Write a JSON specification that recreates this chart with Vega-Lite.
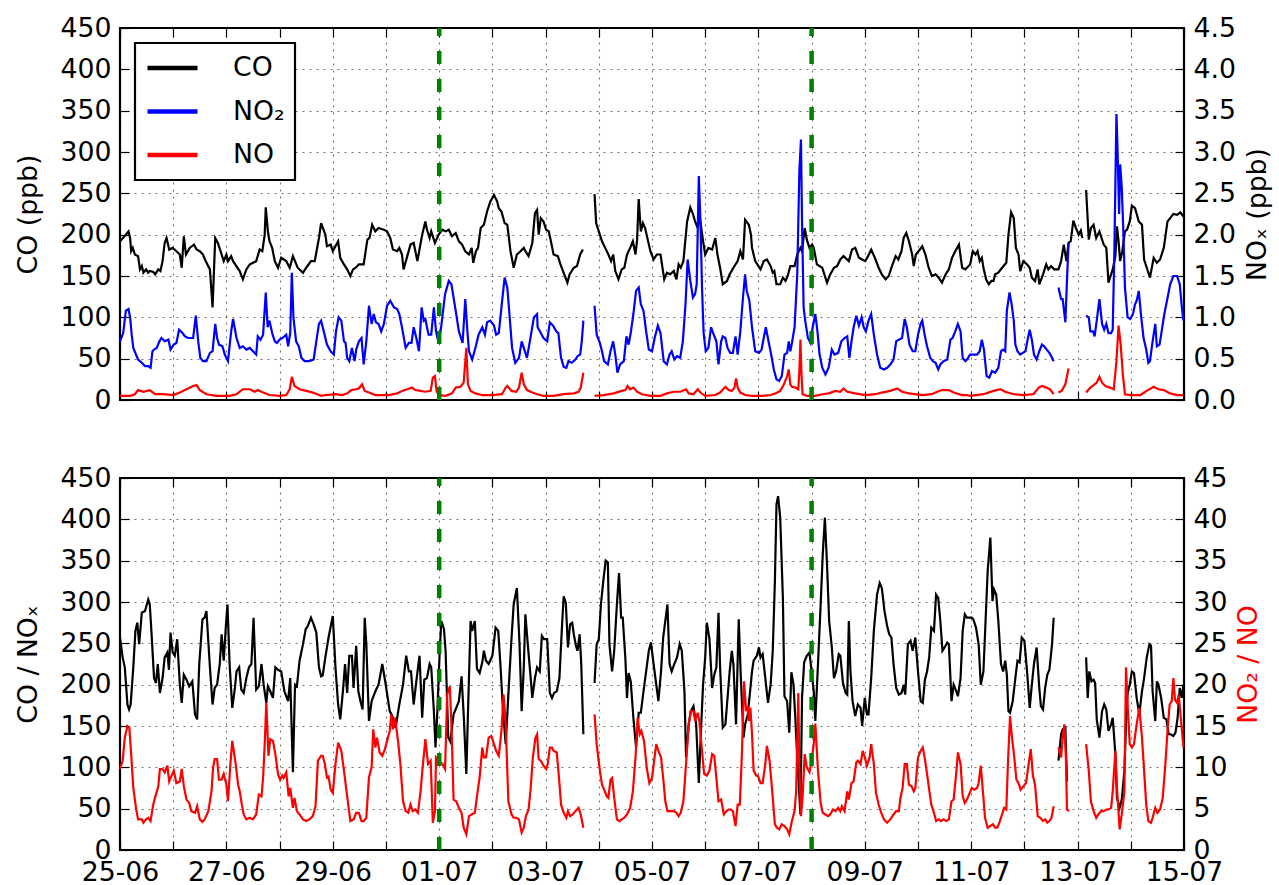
{
"$schema":"https://vega.github.io/schema/vega-lite/v6.json",
"autosize":{"type":"pad"},
"padding":{"left":13,"top":13,"right":5,"bottom":0},
"background":"white",
"config":{
 "font":"DejaVu Sans",
 "view":{"stroke":"black","strokeWidth":2.2},
 "axis":{"labelFontSize":26.7,"titleFontSize":26.7,"titleFontWeight":"normal","labelColor":"black","titleColor":"black","tickColor":"black","tickWidth":1.2,"tickSize":-9,"labelPadding":18,"titlePadding":9,"domain":false,"gridColor":"#000000","gridOpacity":0.55,"gridDash":[2,5],"gridWidth":1.1,"labelFont":"DejaVu Sans","titleFont":"DejaVu Sans","labelOverlap":false,"labelFlush":false},
 "legend":{"strokeWidth":2.2}
},
"datasets":{
"events":[{"d":6},{"d":13}],
"co":[{"d":0,"v":192},{"d":0.11,"v":200},{"d":0.16,"v":204},{"d":0.19,"v":196},{"d":0.21,"v":180},{"d":0.24,"v":184},{"d":0.28,"v":176},{"d":0.34,"v":174},{"d":0.375,"v":158},{"d":0.41,"v":162},{"d":0.44,"v":154},{"d":0.49,"v":158},{"d":0.53,"v":154},{"d":0.56,"v":156},{"d":0.625,"v":155},{"d":0.66,"v":152},{"d":0.72,"v":158},{"d":0.76,"v":156},{"d":0.8,"v":168},{"d":0.84,"v":190},{"d":0.875,"v":196},{"d":0.925,"v":182},{"d":0.99,"v":184},{"d":1.06,"v":180},{"d":1.125,"v":176},{"d":1.16,"v":160},{"d":1.2,"v":198},{"d":1.24,"v":176},{"d":1.31,"v":184},{"d":1.39,"v":188},{"d":1.44,"v":182},{"d":1.5,"v":180},{"d":1.56,"v":176},{"d":1.61,"v":168},{"d":1.69,"v":158},{"d":1.74,"v":112},{"d":1.79,"v":196},{"d":1.84,"v":190},{"d":1.91,"v":176},{"d":1.95,"v":168},{"d":2.0,"v":176},{"d":2.03,"v":168},{"d":2.09,"v":174},{"d":2.125,"v":168},{"d":2.25,"v":156},{"d":2.31,"v":146},{"d":2.375,"v":158},{"d":2.44,"v":164},{"d":2.5,"v":166},{"d":2.56,"v":168},{"d":2.625,"v":182},{"d":2.675,"v":180},{"d":2.72,"v":200},{"d":2.74,"v":233},{"d":2.78,"v":204},{"d":2.81,"v":192},{"d":2.86,"v":184},{"d":2.91,"v":168},{"d":2.97,"v":160},{"d":3.03,"v":172},{"d":3.125,"v":168},{"d":3.19,"v":160},{"d":3.25,"v":174},{"d":3.34,"v":160},{"d":3.44,"v":154},{"d":3.5,"v":160},{"d":3.59,"v":168},{"d":3.66,"v":168},{"d":3.74,"v":196},{"d":3.78,"v":214},
{"d":3.86,"v":200},{"d":3.89,"v":186},{"d":3.96,"v":188},{"d":4.0,"v":180},{"d":4.05,"v":186},{"d":4.1,"v":192},{"d":4.14,"v":172},{"d":4.21,"v":164},{"d":4.27,"v":158},{"d":4.33,"v":150},{"d":4.38,"v":158},{"d":4.43,"v":160},{"d":4.49,"v":164},{"d":4.58,"v":164},{"d":4.65,"v":194},{"d":4.69,"v":196},{"d":4.74,"v":212},{"d":4.8,"v":204},{"d":4.86,"v":208},{"d":4.96,"v":206},{"d":5.02,"v":204},{"d":5.08,"v":196},{"d":5.13,"v":182},{"d":5.21,"v":180},{"d":5.25,"v":184},{"d":5.3,"v":176},{"d":5.33,"v":158},{"d":5.4,"v":174},{"d":5.46,"v":188},{"d":5.52,"v":190},{"d":5.59,"v":168},{"d":5.68,"v":200},{"d":5.74,"v":216},{"d":5.77,"v":206},{"d":5.82,"v":196},{"d":5.85,"v":204},{"d":5.92,"v":190},{"d":5.99,"v":200},{"d":6.06,"v":206},{"d":6.12,"v":204},{"d":6.18,"v":206},{"d":6.24,"v":198},{"d":6.31,"v":202},{"d":6.37,"v":192},{"d":6.43,"v":188},{"d":6.49,"v":180},{"d":6.56,"v":176},{"d":6.61,"v":184},{"d":6.64,"v":166},{"d":6.69,"v":180},{"d":6.73,"v":184},{"d":6.78,"v":208},{"d":6.84,"v":212},{"d":6.9,"v":228},{"d":6.96,"v":240},{"d":7.03,"v":248},{"d":7.09,"v":240},{"d":7.12,"v":232},{"d":7.17,"v":228},{"d":7.23,"v":214},{"d":7.28,"v":212},{"d":7.34,"v":180},{"d":7.4,"v":160},{"d":7.46,"v":176},{"d":7.53,"v":180},{"d":7.59,"v":184},{"d":7.62,"v":180},{"d":7.68,"v":174},{"d":7.75,"v":190},{"d":7.8,"v":226},{"d":7.84,"v":230},
{"d":7.87,"v":200},{"d":7.91,"v":220},{"d":7.96,"v":216},{"d":8.01,"v":206},{"d":8.06,"v":204},{"d":8.1,"v":192},{"d":8.15,"v":176},{"d":8.23,"v":174},{"d":8.28,"v":164},{"d":8.35,"v":152},{"d":8.41,"v":142},{"d":8.45,"v":152},{"d":8.53,"v":160},{"d":8.59,"v":162},{"d":8.65,"v":176},{"d":8.7,"v":182},{"d":8.8,"v":null},{"d":8.92,"v":249},{"d":8.95,"v":214},{"d":9.0,"v":204},{"d":9.06,"v":192},{"d":9.12,"v":184},{"d":9.18,"v":176},{"d":9.23,"v":168},{"d":9.27,"v":176},{"d":9.31,"v":156},{"d":9.37,"v":146},{"d":9.43,"v":158},{"d":9.48,"v":160},{"d":9.53,"v":176},{"d":9.59,"v":184},{"d":9.64,"v":192},{"d":9.69,"v":176},{"d":9.72,"v":194},{"d":9.75,"v":243},{"d":9.79,"v":204},{"d":9.83,"v":214},{"d":9.87,"v":208},{"d":9.97,"v":180},{"d":10.03,"v":170},{"d":10.09,"v":176},{"d":10.16,"v":176},{"d":10.23,"v":146},{"d":10.28,"v":154},{"d":10.34,"v":152},{"d":10.41,"v":156},{"d":10.46,"v":146},{"d":10.5,"v":164},{"d":10.54,"v":160},{"d":10.59,"v":168},{"d":10.66,"v":216},{"d":10.72,"v":233},{"d":10.77,"v":225},{"d":10.81,"v":216},{"d":10.86,"v":208},{"d":10.89,"v":225},{"d":10.96,"v":192},{"d":11.0,"v":176},{"d":11.06,"v":184},{"d":11.13,"v":182},{"d":11.19,"v":196},{"d":11.23,"v":176},{"d":11.28,"v":160},{"d":11.33,"v":140},{"d":11.41,"v":144},{"d":11.46,"v":152},{"d":11.53,"v":160},{"d":11.61,"v":168},{"d":11.66,"v":180},{"d":11.71,"v":170},{"d":11.75,"v":218},{"d":11.82,"v":212},{"d":11.86,"v":200},
{"d":11.88,"v":184},{"d":11.94,"v":168},{"d":12.04,"v":158},{"d":12.1,"v":168},{"d":12.16,"v":170},{"d":12.23,"v":162},{"d":12.27,"v":154},{"d":12.3,"v":156},{"d":12.34,"v":140},{"d":12.41,"v":140},{"d":12.46,"v":148},{"d":12.51,"v":144},{"d":12.55,"v":150},{"d":12.6,"v":162},{"d":12.68,"v":162},{"d":12.73,"v":176},{"d":12.79,"v":184},{"d":12.82,"v":180},{"d":12.87,"v":208},{"d":12.91,"v":194},{"d":12.96,"v":184},{"d":13.01,"v":188},{"d":13.04,"v":184},{"d":13.1,"v":164},{"d":13.2,"v":160},{"d":13.29,"v":142},{"d":13.35,"v":152},{"d":13.42,"v":160},{"d":13.48,"v":162},{"d":13.54,"v":170},{"d":13.6,"v":174},{"d":13.7,"v":168},{"d":13.76,"v":182},{"d":13.82,"v":184},{"d":13.89,"v":172},{"d":13.95,"v":170},{"d":14.01,"v":168},{"d":14.06,"v":174},{"d":14.12,"v":182},{"d":14.19,"v":172},{"d":14.26,"v":160},{"d":14.32,"v":152},{"d":14.39,"v":146},{"d":14.45,"v":150},{"d":14.51,"v":162},{"d":14.58,"v":174},{"d":14.63,"v":170},{"d":14.69,"v":180},{"d":14.73,"v":196},{"d":14.78,"v":202},{"d":14.83,"v":192},{"d":14.89,"v":176},{"d":14.92,"v":162},{"d":14.96,"v":176},{"d":15.01,"v":180},{"d":15.08,"v":186},{"d":15.14,"v":176},{"d":15.2,"v":160},{"d":15.26,"v":150},{"d":15.33,"v":152},{"d":15.39,"v":148},{"d":15.45,"v":142},{"d":15.52,"v":152},{"d":15.58,"v":158},{"d":15.64,"v":172},{"d":15.7,"v":180},{"d":15.77,"v":188},{"d":15.83,"v":160},{"d":15.89,"v":158},{"d":15.92,"v":160},
{"d":15.98,"v":164},{"d":16.03,"v":180},{"d":16.08,"v":176},{"d":16.12,"v":180},{"d":16.16,"v":168},{"d":16.2,"v":172},{"d":16.23,"v":160},{"d":16.28,"v":146},{"d":16.33,"v":140},{"d":16.38,"v":144},{"d":16.42,"v":144},{"d":16.45,"v":152},{"d":16.51,"v":154},{"d":16.58,"v":160},{"d":16.66,"v":166},{"d":16.7,"v":200},{"d":16.75,"v":227},{"d":16.8,"v":220},{"d":16.84,"v":184},{"d":16.89,"v":176},{"d":16.92,"v":156},{"d":16.98,"v":168},{"d":17.05,"v":164},{"d":17.1,"v":160},{"d":17.14,"v":148},{"d":17.2,"v":144},{"d":17.25,"v":158},{"d":17.28,"v":140},{"d":17.35,"v":152},{"d":17.41,"v":164},{"d":17.45,"v":158},{"d":17.5,"v":162},{"d":17.56,"v":158},{"d":17.64,"v":158},{"d":17.69,"v":168},{"d":17.74,"v":188},{"d":17.79,"v":168},{"d":17.83,"v":190},{"d":17.87,"v":192},{"d":17.92,"v":217},{"d":17.97,"v":208},{"d":18.02,"v":200},{"d":18.06,"v":205},{"d":18.09,"v":196},{"d":18.12,"v":null},{"d":18.16,"v":254},{"d":18.21,"v":194},{"d":18.25,"v":208},{"d":18.3,"v":212},{"d":18.35,"v":196},{"d":18.41,"v":204},{"d":18.49,"v":188},{"d":18.54,"v":184},{"d":18.58,"v":142},{"d":18.61,"v":148},{"d":18.66,"v":158},{"d":18.71,"v":174},{"d":18.74,"v":210},{"d":18.77,"v":192},{"d":18.8,"v":168},{"d":18.84,"v":180},{"d":18.89,"v":204},{"d":18.93,"v":206},{"d":18.98,"v":216},{"d":19.02,"v":235},{"d":19.08,"v":232},{"d":19.15,"v":216},{"d":19.21,"v":212},{"d":19.25,"v":170},{"d":19.3,"v":160},{"d":19.36,"v":148},{"d":19.43,"v":172},{"d":19.49,"v":166},{"d":19.55,"v":170},{"d":19.62,"v":184},{"d":19.69,"v":216},{"d":19.74,"v":220},{"d":19.8,"v":225},{"d":19.87,"v":224},{"d":19.93,"v":227},{"d":19.99,"v":222}],
"no2":[{"d":0,"v":0.71},{"d":0.06,"v":0.81},{"d":0.11,"v":1.08},{"d":0.16,"v":1.10},{"d":0.19,"v":1.0},{"d":0.22,"v":0.79},{"d":0.25,"v":0.63},{"d":0.3,"v":0.55},{"d":0.34,"v":0.49},{"d":0.41,"v":0.45},{"d":0.47,"v":0.41},{"d":0.53,"v":0.41},{"d":0.575,"v":0.39},{"d":0.61,"v":0.59},{"d":0.64,"v":0.61},{"d":0.69,"v":0.63},{"d":0.74,"v":0.71},{"d":0.78,"v":0.75},{"d":0.84,"v":0.71},{"d":0.91,"v":0.73},{"d":0.95,"v":0.61},{"d":1.01,"v":0.67},{"d":1.06,"v":0.69},{"d":1.11,"v":0.85},{"d":1.175,"v":0.81},{"d":1.22,"v":0.77},{"d":1.28,"v":0.75},{"d":1.375,"v":0.75},{"d":1.425,"v":1.02},{"d":1.47,"v":0.71},{"d":1.51,"v":0.51},{"d":1.56,"v":0.47},{"d":1.625,"v":0.47},{"d":1.69,"v":0.57},{"d":1.74,"v":0.59},{"d":1.79,"v":0.92},{"d":1.825,"v":0.75},{"d":1.86,"v":0.67},{"d":1.925,"v":0.65},{"d":1.97,"v":0.55},{"d":2.03,"v":0.47},{"d":2.09,"v":0.83},{"d":2.125,"v":0.98},{"d":2.19,"v":0.75},{"d":2.25,"v":0.63},{"d":2.31,"v":0.65},{"d":2.375,"v":0.61},{"d":2.44,"v":0.63},{"d":2.5,"v":0.59},{"d":2.56,"v":0.55},{"d":2.59,"v":0.77},{"d":2.64,"v":0.73},{"d":2.69,"v":0.79},{"d":2.74,"v":1.30},{"d":2.775,"v":0.88},{"d":2.81,"v":0.96},{"d":2.86,"v":0.81},{"d":2.91,"v":0.71},{"d":2.95,"v":0.69},{"d":3.0,"v":0.73},{"d":3.05,"v":0.75},{"d":3.09,"v":0.77},{"d":3.125,"v":0.79},{"d":3.16,"v":0.65},{"d":3.2,"v":0.81},{"d":3.23,"v":1.54},{"d":3.26,"v":1.0},{"d":3.31,"v":0.71},{"d":3.36,"v":0.65},{"d":3.41,"v":0.51},{"d":3.47,"v":0.47},{"d":3.56,"v":0.47},{"d":3.64,"v":0.49},{"d":3.69,"v":0.71},{"d":3.74,"v":0.92},{"d":3.78,"v":0.96},
{"d":3.83,"v":0.83},{"d":3.89,"v":0.67},{"d":3.96,"v":0.59},{"d":4.02,"v":0.55},{"d":4.06,"v":0.83},{"d":4.11,"v":1.0},{"d":4.16,"v":0.96},{"d":4.21,"v":0.71},{"d":4.24,"v":0.69},{"d":4.27,"v":0.51},{"d":4.31,"v":0.47},{"d":4.36,"v":0.63},{"d":4.41,"v":0.47},{"d":4.44,"v":0.61},{"d":4.49,"v":0.71},{"d":4.54,"v":0.75},{"d":4.58,"v":0.43},{"d":4.63,"v":0.71},{"d":4.68,"v":1.14},{"d":4.73,"v":0.92},{"d":4.77,"v":1.04},{"d":4.81,"v":0.94},{"d":4.86,"v":0.92},{"d":4.91,"v":0.83},{"d":4.96,"v":0.92},{"d":5.02,"v":1.14},{"d":5.08,"v":1.2},{"d":5.15,"v":1.12},{"d":5.21,"v":1.1},{"d":5.25,"v":1.04},{"d":5.3,"v":0.88},{"d":5.37,"v":0.63},{"d":5.43,"v":0.69},{"d":5.48,"v":0.69},{"d":5.52,"v":0.88},{"d":5.57,"v":0.75},{"d":5.62,"v":0.59},{"d":5.67,"v":1.12},{"d":5.71,"v":0.96},{"d":5.74,"v":0.98},{"d":5.77,"v":0.88},{"d":5.8,"v":0.79},{"d":5.85,"v":0.79},{"d":5.9,"v":1.12},{"d":5.94,"v":0.83},{"d":5.99,"v":0.69},{"d":6.04,"v":0.9},{"d":6.11,"v":1.28},{"d":6.18,"v":1.44},{"d":6.23,"v":1.40},{"d":6.31,"v":1.08},{"d":6.37,"v":0.83},{"d":6.44,"v":0.69},{"d":6.49,"v":1.22},{"d":6.53,"v":0.83},{"d":6.56,"v":0.59},{"d":6.62,"v":0.49},{"d":6.68,"v":0.63},{"d":6.74,"v":0.79},{"d":6.81,"v":0.88},{"d":6.86,"v":0.79},{"d":6.9,"v":0.94},{"d":6.96,"v":0.96},{"d":7.03,"v":0.9},{"d":7.07,"v":0.79},{"d":7.12,"v":0.81},{"d":7.17,"v":1.12},{"d":7.23,"v":1.48},{"d":7.28,"v":1.36},{"d":7.32,"v":1.04},{"d":7.37,"v":0.63},{"d":7.43,"v":0.45},{"d":7.5,"v":0.51},{"d":7.55,"v":0.71},{"d":7.59,"v":0.63},{"d":7.65,"v":0.51},{"d":7.72,"v":0.77},{"d":7.78,"v":1.0},{"d":7.84,"v":1.04},
{"d":7.85,"v":0.88},{"d":7.91,"v":0.81},{"d":7.96,"v":0.75},{"d":8.03,"v":0.71},{"d":8.08,"v":0.94},{"d":8.14,"v":0.9},{"d":8.2,"v":0.83},{"d":8.24,"v":0.81},{"d":8.29,"v":0.51},{"d":8.34,"v":0.40},{"d":8.39,"v":0.39},{"d":8.43,"v":0.47},{"d":8.49,"v":0.45},{"d":8.56,"v":0.49},{"d":8.6,"v":0.53},{"d":8.65,"v":0.55},{"d":8.68,"v":0.71},{"d":8.71,"v":0.96},{"d":8.8,"v":null},{"d":8.92,"v":1.14},{"d":8.96,"v":0.79},{"d":9.02,"v":0.69},{"d":9.06,"v":0.59},{"d":9.1,"v":0.47},{"d":9.17,"v":0.43},{"d":9.22,"v":0.59},{"d":9.27,"v":0.71},{"d":9.31,"v":0.55},{"d":9.35,"v":0.33},{"d":9.4,"v":0.43},{"d":9.47,"v":0.47},{"d":9.52,"v":0.77},{"d":9.56,"v":0.67},{"d":9.6,"v":0.81},{"d":9.65,"v":1.04},{"d":9.7,"v":1.32},{"d":9.75,"v":1.36},{"d":9.79,"v":1.16},{"d":9.84,"v":1.08},{"d":9.89,"v":0.83},{"d":9.94,"v":0.61},{"d":10.0,"v":0.59},{"d":10.05,"v":0.75},{"d":10.11,"v":0.9},{"d":10.16,"v":0.81},{"d":10.22,"v":0.47},{"d":10.28,"v":0.43},{"d":10.33,"v":0.55},{"d":10.37,"v":0.59},{"d":10.42,"v":0.49},{"d":10.47,"v":0.53},{"d":10.53,"v":0.51},{"d":10.58,"v":0.71},{"d":10.63,"v":1.16},{"d":10.67,"v":1.70},{"d":10.72,"v":1.44},{"d":10.77,"v":1.24},{"d":10.81,"v":1.28},{"d":10.84,"v":1.40},{"d":10.88,"v":2.71},{"d":10.91,"v":2.17},{"d":10.94,"v":1.36},{"d":10.97,"v":0.81},{"d":11.01,"v":0.59},{"d":11.06,"v":0.63},{"d":11.11,"v":0.88},{"d":11.16,"v":0.79},{"d":11.21,"v":0.71},{"d":11.25,"v":0.43},{"d":11.3,"v":0.71},{"d":11.33,"v":0.77},{"d":11.38,"v":0.75},{"d":11.42,"v":0.63},{"d":11.47,"v":0.57},{"d":11.52,"v":0.57},{"d":11.57,"v":0.77},{"d":11.61,"v":0.55},{"d":11.66,"v":0.83},{"d":11.71,"v":1.24},{"d":11.75,"v":1.52},{"d":11.78,"v":1.32},{"d":11.83,"v":1.2},{"d":11.88,"v":0.88},
{"d":11.94,"v":0.59},{"d":12.01,"v":0.57},{"d":12.06,"v":0.61},{"d":12.1,"v":0.75},{"d":12.14,"v":0.88},{"d":12.19,"v":0.71},{"d":12.24,"v":0.55},{"d":12.29,"v":0.37},{"d":12.34,"v":0.25},{"d":12.39,"v":0.23},{"d":12.44,"v":0.29},{"d":12.49,"v":0.55},{"d":12.54,"v":0.57},{"d":12.57,"v":0.71},{"d":12.6,"v":0.59},{"d":12.63,"v":0.69},{"d":12.68,"v":0.88},{"d":12.73,"v":1.52},{"d":12.77,"v":2.77},{"d":12.8,"v":3.15},{"d":12.82,"v":2.17},{"d":12.85,"v":1.12},{"d":12.88,"v":0.96},{"d":12.93,"v":0.75},{"d":12.98,"v":0.69},{"d":13.02,"v":0.88},{"d":13.07,"v":1.04},{"d":13.11,"v":0.83},{"d":13.15,"v":0.55},{"d":13.2,"v":0.39},{"d":13.26,"v":0.31},{"d":13.32,"v":0.39},{"d":13.38,"v":0.61},{"d":13.43,"v":0.55},{"d":13.5,"v":0.57},{"d":13.56,"v":0.71},{"d":13.62,"v":0.75},{"d":13.67,"v":0.77},{"d":13.71,"v":0.51},{"d":13.75,"v":0.71},{"d":13.79,"v":0.88},{"d":13.84,"v":1.02},{"d":13.89,"v":0.9},{"d":13.94,"v":1.0},{"d":13.98,"v":0.88},{"d":14.02,"v":0.83},{"d":14.07,"v":0.96},{"d":14.12,"v":1.04},{"d":14.17,"v":0.79},{"d":14.23,"v":0.55},{"d":14.29,"v":0.39},{"d":14.36,"v":0.37},{"d":14.42,"v":0.39},{"d":14.48,"v":0.43},{"d":14.54,"v":0.49},{"d":14.59,"v":0.71},{"d":14.64,"v":0.73},{"d":14.7,"v":0.75},{"d":14.75,"v":0.98},{"d":14.79,"v":0.88},{"d":14.84,"v":0.67},{"d":14.9,"v":0.59},{"d":14.95,"v":0.59},{"d":15.0,"v":0.79},{"d":15.05,"v":0.92},{"d":15.08,"v":0.96},{"d":15.13,"v":0.77},{"d":15.17,"v":0.65},{"d":15.23,"v":0.51},{"d":15.28,"v":0.47},{"d":15.33,"v":0.45},{"d":15.38,"v":0.37},{"d":15.42,"v":0.43},{"d":15.48,"v":0.47},{"d":15.55,"v":0.49},{"d":15.61,"v":0.73},{"d":15.65,"v":0.75},{"d":15.7,"v":0.83},{"d":15.75,"v":0.92},{"d":15.8,"v":0.83},{"d":15.84,"v":0.51},{"d":15.89,"v":0.47},{"d":15.92,"v":0.49},
{"d":15.98,"v":0.55},{"d":16.04,"v":0.55},{"d":16.11,"v":0.55},{"d":16.16,"v":0.59},{"d":16.2,"v":0.73},{"d":16.24,"v":0.61},{"d":16.29,"v":0.29},{"d":16.34,"v":0.27},{"d":16.39,"v":0.35},{"d":16.45,"v":0.33},{"d":16.51,"v":0.39},{"d":16.56,"v":0.59},{"d":16.6,"v":0.61},{"d":16.64,"v":0.59},{"d":16.67,"v":1.08},{"d":16.72,"v":1.30},{"d":16.76,"v":1.16},{"d":16.8,"v":0.96},{"d":16.83,"v":0.67},{"d":16.87,"v":0.59},{"d":16.92,"v":0.55},{"d":16.97,"v":0.57},{"d":17.02,"v":0.59},{"d":17.06,"v":0.73},{"d":17.1,"v":0.85},{"d":17.14,"v":0.73},{"d":17.18,"v":0.55},{"d":17.23,"v":0.49},{"d":17.28,"v":0.59},{"d":17.33,"v":0.67},{"d":17.37,"v":0.65},{"d":17.42,"v":0.61},{"d":17.47,"v":0.57},{"d":17.52,"v":0.51},{"d":17.55,"v":0.47},{"d":17.6,"v":null},{"d":17.64,"v":1.36},{"d":17.69,"v":1.22},{"d":17.72,"v":1.22},{"d":17.77,"v":0.94},{"d":17.8,"v":1.44},{"d":17.83,"v":1.9},{"d":18.0,"v":null},{"d":18.16,"v":1.02},{"d":18.21,"v":1.0},{"d":18.24,"v":0.83},{"d":18.29,"v":0.83},{"d":18.32,"v":0.77},{"d":18.36,"v":0.96},{"d":18.41,"v":1.22},{"d":18.46,"v":0.92},{"d":18.5,"v":0.85},{"d":18.54,"v":0.92},{"d":18.58,"v":0.81},{"d":18.63,"v":0.81},{"d":18.66,"v":0.85},{"d":18.69,"v":1.76},{"d":18.73,"v":3.46},{"d":18.75,"v":3.05},{"d":18.78,"v":2.25},{"d":18.8,"v":2.85},{"d":18.83,"v":2.57},{"d":18.86,"v":2.04},{"d":18.89,"v":1.36},{"d":18.94,"v":1.0},{"d":18.99,"v":0.98},{"d":19.04,"v":1.04},{"d":19.08,"v":1.16},{"d":19.11,"v":1.2},{"d":19.15,"v":1.32},{"d":19.19,"v":1.04},{"d":19.24,"v":0.75},{"d":19.29,"v":0.61},{"d":19.33,"v":0.45},{"d":19.36,"v":0.47},{"d":19.41,"v":0.71},{"d":19.46,"v":0.92},{"d":19.49,"v":0.65},{"d":19.54,"v":0.67},{"d":19.58,"v":0.83},{"d":19.63,"v":1.04},{"d":19.68,"v":1.2},{"d":19.74,"v":1.4},{"d":19.8,"v":1.5},{"d":19.87,"v":1.5},{"d":19.92,"v":1.4},{"d":19.96,"v":1.12},{"d":19.99,"v":0.96}],
"no":[{"d":0,"v":0.05},{"d":0.19,"v":0.05},{"d":0.28,"v":0.07},{"d":0.34,"v":0.12},{"d":0.44,"v":0.10},{"d":0.56,"v":0.12},{"d":0.66,"v":0.07},{"d":0.81,"v":0.07},{"d":1.0,"v":0.06},{"d":1.125,"v":0.09},{"d":1.25,"v":0.13},{"d":1.375,"v":0.17},{"d":1.44,"v":0.18},{"d":1.5,"v":0.12},{"d":1.625,"v":0.07},{"d":1.81,"v":0.05},{"d":2.06,"v":0.05},{"d":2.19,"v":0.07},{"d":2.31,"v":0.13},{"d":2.44,"v":0.13},{"d":2.53,"v":0.10},{"d":2.59,"v":0.12},{"d":2.69,"v":0.09},{"d":2.81,"v":0.06},{"d":3.0,"v":0.05},{"d":3.125,"v":0.06},{"d":3.19,"v":0.13},{"d":3.23,"v":0.28},{"d":3.28,"v":0.17},{"d":3.375,"v":0.13},{"d":3.5,"v":0.11},{"d":3.625,"v":0.09},{"d":3.78,"v":0.05},
{"d":3.86,"v":0.06},{"d":4.05,"v":0.07},{"d":4.18,"v":0.06},{"d":4.27,"v":0.08},{"d":4.35,"v":0.12},{"d":4.43,"v":0.13},{"d":4.49,"v":0.14},{"d":4.55,"v":0.19},{"d":4.6,"v":0.11},{"d":4.68,"v":0.09},{"d":4.8,"v":0.06},{"d":5.05,"v":0.06},{"d":5.21,"v":0.08},{"d":5.3,"v":0.11},{"d":5.4,"v":0.13},{"d":5.49,"v":0.15},{"d":5.55,"v":0.12},{"d":5.65,"v":0.11},{"d":5.74,"v":0.10},{"d":5.84,"v":0.11},{"d":5.88,"v":0.27},{"d":5.92,"v":0.29},{"d":5.95,"v":0.11},{"d":5.99,"v":0.06},{"d":6.12,"v":0.05},{"d":6.24,"v":0.08},{"d":6.31,"v":0.15},{"d":6.4,"v":0.16},{"d":6.46,"v":0.21},{"d":6.51,"v":0.63},{"d":6.54,"v":0.19},{"d":6.59,"v":0.11},{"d":6.68,"v":0.08},{"d":6.81,"v":0.06},{"d":7.0,"v":0.06},{"d":7.18,"v":0.07},{"d":7.25,"v":0.15},{"d":7.28,"v":0.17},{"d":7.36,"v":0.11},{"d":7.45,"v":0.10},{"d":7.5,"v":0.15},{"d":7.55,"v":0.33},{"d":7.59,"v":0.19},{"d":7.65,"v":0.12},{"d":7.75,"v":0.09},{"d":7.84,"v":0.07},
{"d":7.96,"v":0.05},{"d":8.15,"v":0.05},{"d":8.34,"v":0.07},{"d":8.53,"v":0.08},{"d":8.62,"v":0.10},{"d":8.66,"v":0.15},{"d":8.71,"v":0.33},{"d":8.8,"v":null},{"d":8.92,"v":0.05},{"d":9.09,"v":0.06},{"d":9.28,"v":0.08},{"d":9.43,"v":0.11},{"d":9.5,"v":0.12},{"d":9.54,"v":0.17},{"d":9.59,"v":0.13},{"d":9.65,"v":0.15},{"d":9.72,"v":0.10},{"d":9.81,"v":0.07},{"d":9.97,"v":0.05},{"d":10.16,"v":0.05},{"d":10.28,"v":0.08},{"d":10.41,"v":0.10},{"d":10.53,"v":0.10},{"d":10.64,"v":0.13},{"d":10.69,"v":0.08},{"d":10.78,"v":0.07},{"d":10.86,"v":0.13},{"d":10.91,"v":0.09},{"d":11.0,"v":0.05},{"d":11.19,"v":0.06},{"d":11.28,"v":0.09},{"d":11.38,"v":0.16},{"d":11.44,"v":0.12},{"d":11.5,"v":0.11},{"d":11.55,"v":0.15},{"d":11.58,"v":0.26},{"d":11.61,"v":0.15},{"d":11.66,"v":0.09},{"d":11.75,"v":0.06},{"d":11.88,"v":0.05},
{"d":12.07,"v":0.05},{"d":12.23,"v":0.06},{"d":12.32,"v":0.08},{"d":12.41,"v":0.11},{"d":12.48,"v":0.19},{"d":12.54,"v":0.29},{"d":12.57,"v":0.37},{"d":12.6,"v":0.19},{"d":12.63,"v":0.16},{"d":12.7,"v":0.15},{"d":12.75,"v":0.13},{"d":12.77,"v":0.35},{"d":12.79,"v":0.73},{"d":12.81,"v":0.31},{"d":12.83,"v":0.07},{"d":12.91,"v":0.05},{"d":13.07,"v":0.05},{"d":13.2,"v":0.07},{"d":13.32,"v":0.08},{"d":13.45,"v":0.11},{"d":13.54,"v":0.10},{"d":13.6,"v":0.14},{"d":13.67,"v":0.10},{"d":13.82,"v":0.08},{"d":14.01,"v":0.06},{"d":14.2,"v":0.07},{"d":14.32,"v":0.09},{"d":14.48,"v":0.11},{"d":14.61,"v":0.14},{"d":14.7,"v":0.10},{"d":14.83,"v":0.08},{"d":15.08,"v":0.06},{"d":15.26,"v":0.07},{"d":15.36,"v":0.10},{"d":15.45,"v":0.12},{"d":15.58,"v":0.12},{"d":15.67,"v":0.09},{"d":15.83,"v":0.06},{"d":15.92,"v":0.06},
{"d":15.98,"v":0.05},{"d":16.23,"v":0.07},{"d":16.42,"v":0.11},{"d":16.55,"v":0.13},{"d":16.64,"v":0.10},{"d":16.8,"v":0.07},{"d":16.98,"v":0.06},{"d":17.17,"v":0.07},{"d":17.27,"v":0.15},{"d":17.33,"v":0.17},{"d":17.41,"v":0.15},{"d":17.48,"v":0.13},{"d":17.55,"v":0.07},{"d":17.6,"v":null},{"d":17.64,"v":0.09},{"d":17.7,"v":0.11},{"d":17.77,"v":0.19},{"d":17.83,"v":0.38},{"d":18.0,"v":null},{"d":18.16,"v":0.09},{"d":18.24,"v":0.15},{"d":18.3,"v":0.18},{"d":18.36,"v":0.21},{"d":18.41,"v":0.28},{"d":18.46,"v":0.21},{"d":18.52,"v":0.17},{"d":18.61,"v":0.15},{"d":18.68,"v":0.13},{"d":18.73,"v":0.47},{"d":18.77,"v":0.9},{"d":18.81,"v":0.67},{"d":18.85,"v":0.31},{"d":18.89,"v":0.07},{"d":18.99,"v":0.06},{"d":19.18,"v":0.06},{"d":19.3,"v":0.11},{"d":19.43,"v":0.16},{"d":19.52,"v":0.13},{"d":19.62,"v":0.12},{"d":19.74,"v":0.08},{"d":19.87,"v":0.06},{"d":19.99,"v":0.06}],
"ratio":[{"d":0,"v":257},{"d":0.05,"v":233},{"d":0.09,"v":221},{"d":0.14,"v":176},{"d":0.17,"v":170},{"d":0.2,"v":176},{"d":0.25,"v":221},{"d":0.29,"v":265},{"d":0.325,"v":275},{"d":0.36,"v":249},{"d":0.41,"v":287},{"d":0.47,"v":289},{"d":0.53,"v":303},{"d":0.56,"v":297},{"d":0.59,"v":265},{"d":0.64,"v":208},{"d":0.675,"v":202},{"d":0.71,"v":225},{"d":0.75,"v":190},{"d":0.8,"v":208},{"d":0.84,"v":233},{"d":0.89,"v":239},{"d":0.92,"v":218},{"d":0.95,"v":263},{"d":0.99,"v":239},{"d":1.03,"v":235},{"d":1.075,"v":255},{"d":1.125,"v":200},{"d":1.16,"v":178},{"d":1.2,"v":212},{"d":1.25,"v":206},{"d":1.3,"v":198},{"d":1.36,"v":204},{"d":1.41,"v":164},{"d":1.45,"v":158},{"d":1.49,"v":225},{"d":1.55,"v":279},{"d":1.59,"v":281},{"d":1.625,"v":289},{"d":1.69,"v":221},{"d":1.74,"v":176},{"d":1.78,"v":196},{"d":1.825,"v":200},{"d":1.875,"v":225},{"d":1.91,"v":261},{"d":1.95,"v":229},{"d":1.99,"v":271},{"d":2.02,"v":297},{"d":2.06,"v":225},{"d":2.11,"v":172},{"d":2.16,"v":196},{"d":2.19,"v":216},{"d":2.24,"v":221},{"d":2.28,"v":194},{"d":2.325,"v":190},{"d":2.375,"v":208},{"d":2.425,"v":221},{"d":2.47,"v":225},{"d":2.51,"v":281},{"d":2.56,"v":194},{"d":2.61,"v":198},{"d":2.66,"v":225},{"d":2.7,"v":200},{"d":2.75,"v":178},{"d":2.78,"v":198},{"d":2.825,"v":192},{"d":2.875,"v":184},{"d":2.92,"v":221},{"d":2.97,"v":218},{"d":3.03,"v":216},{"d":3.09,"v":192},{"d":3.16,"v":180},{"d":3.2,"v":208},{"d":3.25,"v":94},{"d":3.29,"v":200},{"d":3.325,"v":198},{"d":3.375,"v":229},{"d":3.44,"v":249},{"d":3.49,"v":267},{"d":3.53,"v":271},{"d":3.59,"v":281},{"d":3.64,"v":273},{"d":3.69,"v":263},{"d":3.74,"v":221},{"d":3.78,"v":210},
{"d":3.81,"v":211},{"d":3.86,"v":233},{"d":3.92,"v":257},{"d":4.0,"v":283},{"d":4.05,"v":221},{"d":4.1,"v":176},{"d":4.14,"v":158},{"d":4.19,"v":192},{"d":4.23,"v":225},{"d":4.27,"v":190},{"d":4.31,"v":235},{"d":4.36,"v":235},{"d":4.39,"v":196},{"d":4.44,"v":247},{"d":4.48,"v":192},{"d":4.52,"v":180},{"d":4.56,"v":170},{"d":4.6,"v":281},{"d":4.63,"v":249},{"d":4.68,"v":156},{"d":4.73,"v":180},{"d":4.8,"v":192},{"d":4.86,"v":200},{"d":4.93,"v":225},{"d":4.99,"v":202},{"d":5.07,"v":168},{"d":5.12,"v":162},{"d":5.18,"v":148},{"d":5.25,"v":176},{"d":5.32,"v":200},{"d":5.38,"v":235},{"d":5.43,"v":216},{"d":5.47,"v":216},{"d":5.52,"v":176},{"d":5.57,"v":204},{"d":5.63,"v":235},{"d":5.68,"v":160},{"d":5.72,"v":206},{"d":5.77,"v":208},{"d":5.82,"v":225},{"d":5.85,"v":221},{"d":5.9,"v":168},{"d":5.93,"v":124},{"d":5.96,"v":160},{"d":6.01,"v":241},{"d":6.04,"v":277},{"d":6.09,"v":267},{"d":6.12,"v":241},{"d":6.17,"v":136},{"d":6.21,"v":131},{"d":6.27,"v":164},{"d":6.32,"v":172},{"d":6.37,"v":180},{"d":6.42,"v":210},{"d":6.46,"v":164},{"d":6.51,"v":92},{"d":6.54,"v":164},{"d":6.59,"v":277},{"d":6.62,"v":265},{"d":6.67,"v":277},{"d":6.71,"v":219},{"d":6.76,"v":214},{"d":6.81,"v":227},{"d":6.84,"v":241},{"d":6.88,"v":229},{"d":6.93,"v":225},{"d":7.0,"v":235},{"d":7.06,"v":269},{"d":7.11,"v":265},{"d":7.15,"v":225},{"d":7.2,"v":168},{"d":7.25,"v":128},{"d":7.31,"v":200},{"d":7.36,"v":257},{"d":7.4,"v":297},{"d":7.46,"v":317},{"d":7.51,"v":249},{"d":7.55,"v":168},{"d":7.59,"v":221},{"d":7.62,"v":285},{"d":7.67,"v":245},{"d":7.72,"v":208},{"d":7.75,"v":184},{"d":7.8,"v":208},{"d":7.84,"v":221},
{"d":7.89,"v":216},{"d":7.93,"v":259},{"d":7.97,"v":255},{"d":8.03,"v":255},{"d":8.08,"v":190},{"d":8.12,"v":184},{"d":8.16,"v":190},{"d":8.21,"v":192},{"d":8.26,"v":208},{"d":8.31,"v":273},{"d":8.34,"v":307},{"d":8.38,"v":299},{"d":8.42,"v":245},{"d":8.46,"v":273},{"d":8.5,"v":275},{"d":8.53,"v":261},{"d":8.57,"v":247},{"d":8.6,"v":241},{"d":8.64,"v":261},{"d":8.67,"v":225},{"d":8.71,"v":140},{"d":8.8,"v":null},{"d":8.92,"v":202},{"d":8.96,"v":249},{"d":9.0,"v":255},{"d":9.04,"v":297},{"d":9.09,"v":329},{"d":9.13,"v":350},{"d":9.17,"v":348},{"d":9.2,"v":249},{"d":9.25,"v":216},{"d":9.29,"v":241},{"d":9.34,"v":297},{"d":9.38,"v":335},{"d":9.42,"v":281},{"d":9.45,"v":281},{"d":9.5,"v":231},{"d":9.53,"v":184},{"d":9.56,"v":214},{"d":9.6,"v":204},{"d":9.65,"v":160},{"d":9.7,"v":124},{"d":9.75,"v":166},{"d":9.79,"v":166},{"d":9.84,"v":192},{"d":9.89,"v":216},{"d":9.94,"v":241},{"d":9.98,"v":251},{"d":10.03,"v":225},{"d":10.08,"v":200},{"d":10.12,"v":180},{"d":10.17,"v":216},{"d":10.21,"v":257},{"d":10.25,"v":277},{"d":10.29,"v":297},{"d":10.33,"v":225},{"d":10.37,"v":216},{"d":10.42,"v":225},{"d":10.47,"v":233},{"d":10.52,"v":249},{"d":10.56,"v":241},{"d":10.61,"v":192},{"d":10.64,"v":112},{"d":10.69,"v":152},{"d":10.73,"v":168},{"d":10.78,"v":174},{"d":10.83,"v":152},{"d":10.88,"v":81},{"d":10.92,"v":144},{"d":10.96,"v":200},{"d":11.0,"v":233},{"d":11.03,"v":275},{"d":11.08,"v":255},{"d":11.13,"v":196},{"d":11.17,"v":212},{"d":11.21,"v":221},{"d":11.25,"v":287},{"d":11.28,"v":221},{"d":11.33,"v":148},{"d":11.38,"v":152},{"d":11.41,"v":176},{"d":11.46,"v":216},{"d":11.5,"v":241},{"d":11.53,"v":225},{"d":11.58,"v":152},{"d":11.63,"v":279},{"d":11.67,"v":208},{"d":11.72,"v":136},{"d":11.75,"v":152},{"d":11.8,"v":164},{"d":11.85,"v":196},{"d":11.88,"v":216},
{"d":11.91,"v":229},{"d":11.97,"v":235},{"d":12.01,"v":245},{"d":12.04,"v":233},{"d":12.08,"v":237},{"d":12.13,"v":208},{"d":12.18,"v":178},{"d":12.23,"v":200},{"d":12.27,"v":241},{"d":12.31,"v":325},{"d":12.34,"v":418},{"d":12.37,"v":428},{"d":12.41,"v":402},{"d":12.46,"v":305},{"d":12.49,"v":186},{"d":12.54,"v":180},{"d":12.58,"v":142},{"d":12.62,"v":215},{"d":12.66,"v":200},{"d":12.7,"v":152},{"d":12.73,"v":112},{"d":12.79,"v":43},{"d":12.82,"v":184},{"d":12.86,"v":227},{"d":12.91,"v":235},{"d":12.96,"v":239},{"d":13.0,"v":216},{"d":13.04,"v":192},{"d":13.07,"v":156},{"d":13.12,"v":225},{"d":13.17,"v":297},{"d":13.21,"v":358},{"d":13.25,"v":402},{"d":13.29,"v":345},{"d":13.33,"v":277},{"d":13.38,"v":245},{"d":13.42,"v":208},{"d":13.46,"v":216},{"d":13.51,"v":237},{"d":13.54,"v":235},{"d":13.59,"v":202},{"d":13.64,"v":190},{"d":13.67,"v":188},{"d":13.7,"v":277},{"d":13.73,"v":216},{"d":13.77,"v":180},{"d":13.82,"v":162},{"d":13.87,"v":176},{"d":13.92,"v":172},{"d":13.95,"v":150},{"d":14.0,"v":184},{"d":14.04,"v":164},{"d":14.07,"v":164},{"d":14.12,"v":208},{"d":14.17,"v":265},{"d":14.23,"v":309},{"d":14.28,"v":323},{"d":14.32,"v":317},{"d":14.37,"v":289},{"d":14.42,"v":271},{"d":14.46,"v":261},{"d":14.5,"v":257},{"d":14.54,"v":225},{"d":14.59,"v":196},{"d":14.64,"v":188},{"d":14.69,"v":190},{"d":14.73,"v":200},{"d":14.76,"v":188},{"d":14.81,"v":249},{"d":14.86,"v":253},{"d":14.9,"v":241},{"d":14.95,"v":257},{"d":15.0,"v":216},{"d":15.05,"v":180},{"d":15.09,"v":178},{"d":15.13,"v":206},{"d":15.17,"v":216},{"d":15.21,"v":233},{"d":15.25,"v":269},{"d":15.3,"v":265},{"d":15.34,"v":309},{"d":15.38,"v":305},{"d":15.42,"v":277},{"d":15.46,"v":241},{"d":15.5,"v":245},{"d":15.55,"v":251},{"d":15.58,"v":249},{"d":15.63,"v":180},{"d":15.67,"v":200},{"d":15.72,"v":192},{"d":15.75,"v":186},{"d":15.8,"v":208},{"d":15.84,"v":265},{"d":15.88,"v":285},{"d":15.92,"v":281},
{"d":16.01,"v":281},{"d":16.04,"v":279},{"d":16.09,"v":269},{"d":16.14,"v":249},{"d":16.18,"v":200},{"d":16.23,"v":216},{"d":16.27,"v":277},{"d":16.31,"v":338},{"d":16.36,"v":378},{"d":16.4,"v":301},{"d":16.43,"v":315},{"d":16.47,"v":309},{"d":16.51,"v":277},{"d":16.56,"v":225},{"d":16.6,"v":216},{"d":16.64,"v":229},{"d":16.67,"v":212},{"d":16.7,"v":168},{"d":16.73,"v":166},{"d":16.78,"v":180},{"d":16.83,"v":208},{"d":16.87,"v":229},{"d":16.91,"v":227},{"d":16.95,"v":257},{"d":17.0,"v":253},{"d":17.05,"v":216},{"d":17.1,"v":172},{"d":17.14,"v":200},{"d":17.18,"v":225},{"d":17.23,"v":245},{"d":17.28,"v":196},{"d":17.31,"v":174},{"d":17.35,"v":170},{"d":17.39,"v":196},{"d":17.43,"v":212},{"d":17.47,"v":218},{"d":17.52,"v":249},{"d":17.55,"v":281},{"d":17.6,"v":null},{"d":17.64,"v":108},{"d":17.69,"v":140},{"d":17.72,"v":146},{"d":17.77,"v":148},{"d":17.8,"v":83},{"d":18.0,"v":null},{"d":18.16,"v":233},{"d":18.19,"v":184},{"d":18.22,"v":216},{"d":18.26,"v":204},{"d":18.3,"v":206},{"d":18.33,"v":202},{"d":18.36,"v":158},{"d":18.41,"v":136},{"d":18.46,"v":168},{"d":18.5,"v":176},{"d":18.54,"v":170},{"d":18.58,"v":144},{"d":18.63,"v":152},{"d":18.66,"v":160},{"d":18.71,"v":116},{"d":18.74,"v":63},{"d":18.79,"v":51},{"d":18.83,"v":61},{"d":18.88,"v":96},{"d":18.91,"v":152},{"d":18.94,"v":190},{"d":18.98,"v":200},{"d":19.02,"v":216},{"d":19.06,"v":214},{"d":19.11,"v":184},{"d":19.16,"v":164},{"d":19.21,"v":192},{"d":19.25,"v":208},{"d":19.3,"v":233},{"d":19.35,"v":249},{"d":19.38,"v":247},{"d":19.41,"v":192},{"d":19.46,"v":156},{"d":19.49,"v":204},{"d":19.52,"v":200},{"d":19.57,"v":184},{"d":19.62,"v":160},{"d":19.67,"v":158},{"d":19.71,"v":140},{"d":19.75,"v":140},{"d":19.8,"v":138},{"d":19.84,"v":142},{"d":19.88,"v":160},{"d":19.92,"v":196},{"d":19.96,"v":184},{"d":19.99,"v":200}],
"r2":[{"d":0,"v":9.8},{"d":0.05,"v":10.8},{"d":0.09,"v":13.6},{"d":0.14,"v":15.0},{"d":0.175,"v":14.8},{"d":0.21,"v":11.6},{"d":0.25,"v":7.5},{"d":0.3,"v":5.1},{"d":0.34,"v":3.7},{"d":0.41,"v":3.7},{"d":0.44,"v":3.3},{"d":0.49,"v":3.7},{"d":0.53,"v":3.9},{"d":0.575,"v":3.5},{"d":0.625,"v":5.5},{"d":0.675,"v":6.7},{"d":0.72,"v":7.7},{"d":0.75,"v":9.8},{"d":0.8,"v":9.8},{"d":0.84,"v":9.4},{"d":0.89,"v":10.2},{"d":0.925,"v":8.3},{"d":0.97,"v":9.0},{"d":1.01,"v":9.6},{"d":1.06,"v":8.1},{"d":1.125,"v":8.3},{"d":1.16,"v":9.8},{"d":1.2,"v":7.7},{"d":1.25,"v":6.1},{"d":1.3,"v":5.7},{"d":1.34,"v":4.7},{"d":1.41,"v":4.5},{"d":1.45,"v":5.3},{"d":1.5,"v":3.7},{"d":1.55,"v":3.4},{"d":1.59,"v":3.7},{"d":1.66,"v":4.7},{"d":1.72,"v":7.1},{"d":1.75,"v":10.0},{"d":1.78,"v":11.0},{"d":1.825,"v":11.0},{"d":1.86,"v":8.5},{"d":1.91,"v":8.5},{"d":1.95,"v":9.2},{"d":2.0,"v":7.9},{"d":2.03,"v":5.9},{"d":2.075,"v":10.4},{"d":2.11,"v":13.2},{"d":2.175,"v":10.4},{"d":2.22,"v":7.9},{"d":2.25,"v":7.1},{"d":2.29,"v":5.5},{"d":2.325,"v":4.3},{"d":2.375,"v":3.7},{"d":2.44,"v":3.9},{"d":2.5,"v":3.7},{"d":2.56,"v":4.3},{"d":2.61,"v":6.7},{"d":2.66,"v":6.5},{"d":2.69,"v":8.8},{"d":2.72,"v":12.8},{"d":2.75,"v":17.8},{"d":2.79,"v":11.4},{"d":2.825,"v":13.4},{"d":2.875,"v":13.2},{"d":2.92,"v":11.6},{"d":2.97,"v":9.2},{"d":3.01,"v":8.5},{"d":3.05,"v":9.0},{"d":3.075,"v":8.7},{"d":3.125,"v":9.4},{"d":3.17,"v":6.5},{"d":3.2,"v":7.5},{"d":3.25,"v":5.1},{"d":3.28,"v":6.3},{"d":3.325,"v":4.7},{"d":3.375,"v":4.3},{"d":3.44,"v":3.7},{"d":3.5,"v":3.5},{"d":3.56,"v":3.7},{"d":3.625,"v":4.1},{"d":3.675,"v":5.3},{"d":3.72,"v":10.8},{"d":3.78,"v":11.4},
{"d":3.81,"v":11.4},{"d":3.85,"v":10.4},{"d":3.89,"v":8.8},{"d":3.92,"v":8.9},{"d":3.96,"v":7.3},{"d":4.0,"v":6.9},{"d":4.05,"v":10.4},{"d":4.1,"v":13.0},{"d":4.16,"v":12.0},{"d":4.21,"v":9.6},{"d":4.27,"v":6.5},{"d":4.33,"v":3.5},{"d":4.39,"v":3.7},{"d":4.44,"v":4.5},{"d":4.49,"v":4.5},{"d":4.54,"v":3.5},{"d":4.58,"v":3.5},{"d":4.63,"v":3.9},{"d":4.68,"v":8.8},{"d":4.73,"v":10.0},{"d":4.76,"v":14.6},{"d":4.8,"v":12.4},{"d":4.83,"v":13.6},{"d":4.88,"v":11.8},{"d":4.93,"v":11.4},{"d":4.98,"v":12.2},{"d":5.02,"v":13.2},{"d":5.07,"v":14.4},{"d":5.1,"v":16.4},{"d":5.13,"v":14.6},{"d":5.17,"v":16.0},{"d":5.19,"v":15.0},{"d":5.23,"v":13.0},{"d":5.27,"v":10.4},{"d":5.32,"v":5.9},{"d":5.37,"v":4.7},{"d":5.42,"v":4.5},{"d":5.46,"v":5.5},{"d":5.5,"v":4.7},{"d":5.55,"v":4.9},{"d":5.6,"v":4.5},{"d":5.65,"v":7.1},{"d":5.68,"v":9.4},{"d":5.74,"v":13.4},{"d":5.79,"v":10.4},{"d":5.84,"v":10.8},{"d":5.88,"v":3.3},{"d":5.92,"v":4.7},{"d":5.94,"v":11.2},{"d":5.99,"v":10.8},{"d":6.06,"v":10.4},{"d":6.11,"v":9.8},{"d":6.15,"v":18.8},{"d":6.2,"v":19.8},{"d":6.23,"v":15.2},{"d":6.27,"v":6.1},{"d":6.32,"v":5.9},{"d":6.37,"v":5.1},{"d":6.42,"v":4.5},{"d":6.46,"v":2.7},{"d":6.51,"v":1.9},{"d":6.56,"v":4.1},{"d":6.61,"v":4.3},{"d":6.67,"v":4.5},{"d":6.71,"v":6.5},{"d":6.76,"v":8.8},{"d":6.81,"v":12.4},{"d":6.84,"v":11.2},{"d":6.88,"v":11.2},{"d":6.93,"v":13.6},{"d":6.98,"v":13.8},{"d":7.03,"v":12.8},{"d":7.07,"v":12.0},{"d":7.12,"v":11.4},{"d":7.17,"v":14.4},{"d":7.21,"v":18.8},{"d":7.25,"v":15.2},{"d":7.3,"v":5.9},{"d":7.36,"v":4.3},{"d":7.4,"v":3.9},{"d":7.45,"v":3.9},{"d":7.5,"v":3.7},{"d":7.55,"v":2.1},{"d":7.59,"v":2.7},{"d":7.63,"v":4.1},{"d":7.68,"v":4.9},{"d":7.72,"v":7.5},{"d":7.76,"v":11.2},{"d":7.81,"v":13.6},{"d":7.84,"v":14.0},
{"d":7.87,"v":11.0},{"d":7.91,"v":10.8},{"d":7.96,"v":10.2},{"d":8.01,"v":9.8},{"d":8.04,"v":10.4},{"d":8.08,"v":12.4},{"d":8.12,"v":12.4},{"d":8.15,"v":12.0},{"d":8.21,"v":11.8},{"d":8.26,"v":8.1},{"d":8.29,"v":5.5},{"d":8.34,"v":4.5},{"d":8.39,"v":3.9},{"d":8.42,"v":4.7},{"d":8.46,"v":4.1},{"d":8.51,"v":4.3},{"d":8.56,"v":4.7},{"d":8.62,"v":5.1},{"d":8.66,"v":4.3},{"d":8.71,"v":2.7},{"d":8.8,"v":null},{"d":8.92,"v":16.4},{"d":8.96,"v":12.8},{"d":9.02,"v":9.6},{"d":9.06,"v":7.9},{"d":9.1,"v":7.3},{"d":9.15,"v":6.5},{"d":9.18,"v":6.3},{"d":9.22,"v":8.5},{"d":9.25,"v":8.7},{"d":9.29,"v":6.3},{"d":9.34,"v":3.7},{"d":9.39,"v":3.5},{"d":9.43,"v":3.7},{"d":9.48,"v":3.9},{"d":9.53,"v":4.3},{"d":9.59,"v":5.1},{"d":9.64,"v":7.1},{"d":9.69,"v":11.2},{"d":9.73,"v":16.0},{"d":9.77,"v":14.0},{"d":9.8,"v":14.4},{"d":9.85,"v":13.2},{"d":9.9,"v":10.0},{"d":9.95,"v":8.1},{"d":10.0,"v":8.7},{"d":10.04,"v":10.8},{"d":10.08,"v":12.8},{"d":10.12,"v":12.0},{"d":10.17,"v":11.2},{"d":10.21,"v":8.7},{"d":10.25,"v":5.9},{"d":10.29,"v":4.7},{"d":10.34,"v":4.7},{"d":10.41,"v":4.7},{"d":10.46,"v":4.5},{"d":10.5,"v":4.1},{"d":10.54,"v":4.5},{"d":10.59,"v":5.9},{"d":10.64,"v":10.4},{"d":10.69,"v":15.2},{"d":10.73,"v":16.8},{"d":10.78,"v":16.8},{"d":10.81,"v":15.6},{"d":10.86,"v":16.6},{"d":10.89,"v":15.6},{"d":10.94,"v":12.0},{"d":10.98,"v":9.2},{"d":11.03,"v":9.0},{"d":11.08,"v":9.6},{"d":11.13,"v":11.6},{"d":11.17,"v":11.4},{"d":11.21,"v":8.7},{"d":11.25,"v":5.9},{"d":11.3,"v":6.1},{"d":11.35,"v":4.3},{"d":11.4,"v":4.7},{"d":11.44,"v":4.9},{"d":11.48,"v":4.9},{"d":11.52,"v":4.7},{"d":11.57,"v":2.9},{"d":11.61,"v":5.5},{"d":11.65,"v":5.5},{"d":11.69,"v":11.6},{"d":11.73,"v":20.4},{"d":11.77,"v":16.8},{"d":11.8,"v":17.4},
{"d":11.82,"v":15.6},{"d":11.85,"v":17.2},{"d":11.88,"v":14.0},{"d":11.91,"v":9.6},{"d":11.96,"v":9.0},{"d":11.99,"v":9.0},{"d":12.04,"v":8.1},{"d":12.08,"v":8.1},{"d":12.13,"v":10.4},{"d":12.16,"v":12.6},{"d":12.21,"v":10.8},{"d":12.26,"v":7.1},{"d":12.31,"v":3.1},{"d":12.35,"v":2.7},{"d":12.39,"v":2.5},{"d":12.44,"v":3.1},{"d":12.49,"v":2.9},{"d":12.54,"v":2.5},{"d":12.58,"v":1.9},{"d":12.63,"v":3.5},{"d":12.68,"v":4.7},{"d":12.71,"v":7.1},{"d":12.75,"v":19.0},{"d":12.77,"v":10.0},{"d":12.8,"v":4.1},{"d":12.83,"v":6.3},{"d":12.87,"v":11.6},{"d":12.91,"v":10.0},{"d":12.96,"v":9.4},{"d":13.0,"v":10.8},{"d":13.04,"v":12.8},{"d":13.07,"v":15.3},{"d":13.12,"v":9.6},{"d":13.17,"v":5.7},{"d":13.21,"v":4.5},{"d":13.26,"v":4.3},{"d":13.31,"v":4.1},{"d":13.35,"v":4.3},{"d":13.4,"v":4.9},{"d":13.45,"v":4.7},{"d":13.5,"v":5.1},{"d":13.54,"v":4.7},{"d":13.57,"v":5.3},{"d":13.62,"v":4.7},{"d":13.67,"v":7.1},{"d":13.7,"v":6.1},{"d":13.75,"v":8.1},{"d":13.79,"v":8.3},{"d":13.84,"v":10.6},{"d":13.87,"v":10.8},{"d":13.92,"v":10.4},{"d":13.96,"v":12.0},{"d":14.0,"v":11.2},{"d":14.04,"v":10.2},{"d":14.09,"v":11.2},{"d":14.12,"v":12.8},{"d":14.17,"v":10.4},{"d":14.21,"v":6.9},{"d":14.26,"v":5.5},{"d":14.31,"v":4.5},{"d":14.36,"v":3.7},{"d":14.42,"v":3.3},{"d":14.48,"v":3.7},{"d":14.54,"v":4.3},{"d":14.59,"v":4.7},{"d":14.64,"v":4.7},{"d":14.67,"v":6.3},{"d":14.71,"v":7.5},{"d":14.75,"v":10.4},{"d":14.79,"v":10.4},{"d":14.83,"v":7.9},{"d":14.88,"v":7.7},{"d":14.92,"v":7.1},{"d":14.95,"v":7.5},{"d":15.0,"v":11.2},{"d":15.05,"v":12.0},{"d":15.09,"v":12.4},{"d":15.13,"v":11.0},{"d":15.17,"v":9.2},{"d":15.21,"v":7.3},{"d":15.25,"v":5.5},{"d":15.3,"v":4.5},{"d":15.34,"v":3.5},{"d":15.39,"v":3.7},{"d":15.43,"v":3.5},{"d":15.48,"v":3.7},{"d":15.53,"v":3.5},{"d":15.58,"v":3.7},{"d":15.63,"v":5.9},{"d":15.67,"v":6.1},{"d":15.72,"v":9.4},{"d":15.75,"v":11.8},{"d":15.8,"v":10.4},{"d":15.84,"v":6.5},{"d":15.88,"v":5.7},{"d":15.92,"v":6.1},
{"d":16.01,"v":7.5},{"d":16.06,"v":7.3},{"d":16.11,"v":7.5},{"d":16.14,"v":8.1},{"d":16.18,"v":10.2},{"d":16.22,"v":7.1},{"d":16.26,"v":3.9},{"d":16.31,"v":2.7},{"d":16.36,"v":2.9},{"d":16.41,"v":3.1},{"d":16.45,"v":2.7},{"d":16.49,"v":2.7},{"d":16.53,"v":3.3},{"d":16.58,"v":4.3},{"d":16.62,"v":5.1},{"d":16.66,"v":4.9},{"d":16.69,"v":10.4},{"d":16.73,"v":16.2},{"d":16.76,"v":14.0},{"d":16.81,"v":11.2},{"d":16.85,"v":8.5},{"d":16.89,"v":8.1},{"d":16.93,"v":7.3},{"d":16.98,"v":7.7},{"d":17.03,"v":8.1},{"d":17.08,"v":10.4},{"d":17.12,"v":12.2},{"d":17.16,"v":9.0},{"d":17.2,"v":7.9},{"d":17.25,"v":4.1},{"d":17.3,"v":3.9},{"d":17.35,"v":3.5},{"d":17.39,"v":3.7},{"d":17.43,"v":3.3},{"d":17.47,"v":3.5},{"d":17.51,"v":3.9},{"d":17.55,"v":5.3},{"d":17.6,"v":null},{"d":17.64,"v":12.4},{"d":17.69,"v":11.2},{"d":17.72,"v":13.6},{"d":17.75,"v":15.2},{"d":17.78,"v":11.2},{"d":17.8,"v":4.9},{"d":17.84,"v":4.7},{"d":18.0,"v":null},{"d":18.16,"v":12.8},{"d":18.21,"v":9.6},{"d":18.25,"v":5.9},{"d":18.3,"v":4.7},{"d":18.35,"v":3.9},{"d":18.39,"v":4.3},{"d":18.44,"v":4.7},{"d":18.49,"v":4.7},{"d":18.54,"v":4.9},{"d":18.58,"v":4.9},{"d":18.63,"v":5.1},{"d":18.66,"v":7.1},{"d":18.71,"v":12.0},{"d":18.74,"v":7.5},{"d":18.79,"v":2.5},{"d":18.83,"v":4.3},{"d":18.88,"v":7.1},{"d":18.91,"v":22.1},{"d":18.94,"v":17.6},{"d":18.98,"v":12.8},{"d":19.02,"v":12.4},{"d":19.06,"v":12.8},{"d":19.11,"v":15.2},{"d":19.16,"v":17.2},{"d":19.21,"v":13.6},{"d":19.25,"v":9.6},{"d":19.29,"v":5.5},{"d":19.33,"v":3.5},{"d":19.38,"v":3.3},{"d":19.41,"v":3.9},{"d":19.46,"v":5.1},{"d":19.5,"v":4.5},{"d":19.55,"v":4.9},{"d":19.6,"v":6.3},{"d":19.65,"v":10.4},{"d":19.69,"v":14.4},{"d":19.73,"v":17.6},{"d":19.77,"v":18.0},{"d":19.8,"v":20.8},{"d":19.83,"v":18.2},{"d":19.87,"v":17.8},{"d":19.9,"v":18.8},{"d":19.94,"v":16.0},{"d":19.99,"v":12.4}]
},
"spacing":78,
"bounds":"flush",
"resolve":{"scale":{"x":"independent","y":"independent","color":"independent"}},
"vconcat":[
{
 "width":1064,"height":372,
 "resolve":{"scale":{"y":"independent"},"axis":{"x":"independent"}},
 "layer":[
  {"data":{"name":"co"},
   "mark":{"type":"line","strokeWidth":2.2,"invalid":"break-paths-show-domains"},
   "encoding":{
    "x":{"field":"d","type":"quantitative","scale":{"domain":[0,20],"nice":false,"zero":false},"axis":{"orient":"bottom","values":[0,1,2,3,4,5,6,7,8,9,10,11,12,13,14,15,16,17,18,19,20],"labels":false,"grid":true,"title":null}},
    "y":{"field":"v","type":"quantitative","scale":{"domain":[0,450],"nice":false},"axis":{"values":[0,50,100,150,200,250,300,350,400,450],"grid":true,"title":"CO (ppb)","titlePadding":18}},
    "color":{"datum":"CO","type":"nominal","scale":{"domain":["CO","NO₂","NO"],"range":["#000000","#0000ff","#ff0000"]},
      "legend":{"orient":"none","legendX":15,"legendY":15,"title":null,"symbolType":"stroke","symbolSize":2500,"symbolStrokeWidth":4.5,"labelFontSize":26.7,"labelFont":"DejaVu Sans","labelColor":"black","labelOffset":33,"padding":10,"clipHeight":30,"rowPadding":13.5,"strokeColor":"black","fillColor":"white","cornerRadius":0}}
   }},
  {"layer":[
   {"data":{"name":"no2"},
    "mark":{"type":"line","strokeWidth":2.2,"invalid":"break-paths-show-domains"},
    "encoding":{
     "x":{"field":"d","type":"quantitative","scale":{"domain":[0,20],"nice":false,"zero":false},"axis":{"orient":"top","values":[0,1,2,3,4,5,6,7,8,9,10,11,12,13,14,15,16,17,18,19,20],"labels":false,"grid":false,"title":null}},
     "y":{"field":"v","type":"quantitative","scale":{"domain":[0,4.5],"nice":false},"axis":{"orient":"right","values":[0,0.5,1,1.5,2,2.5,3,3.5,4,4.5],"format":".1f","grid":false,"title":"NOₓ (ppb)","titleAngle":270,"titleBaseline":"top"}},
     "color":{"datum":"NO₂","type":"nominal"}
    }},
   {"data":{"name":"no"},
    "mark":{"type":"line","strokeWidth":2.2,"invalid":"break-paths-show-domains"},
    "encoding":{
     "x":{"field":"d","type":"quantitative"},
     "y":{"field":"v","type":"quantitative"},
     "color":{"datum":"NO","type":"nominal"}
    }}
  ]},
  {"data":{"name":"events"},
   "mark":{"type":"rule","color":"#008000","strokeWidth":4.5,"strokeDash":[13,15]},
   "encoding":{
    "x":{"field":"d","type":"quantitative","axis":null},
    "y":{"datum":0,"type":"quantitative","scale":{"domain":[0,450],"nice":false},"axis":null},
    "y2":{"datum":450}
   }}
 ]
},
{
 "width":1064,"height":372,
 "resolve":{"scale":{"y":"independent"},"axis":{"x":"independent"}},
 "layer":[
  {"data":{"name":"ratio"},
   "mark":{"type":"line","color":"#000000","strokeWidth":2.2,"invalid":"break-paths-show-domains"},
   "encoding":{
    "x":{"field":"d","type":"quantitative","scale":{"domain":[0,20],"nice":false,"zero":false},"axis":{"orient":"bottom","values":[0,1,2,3,4,5,6,7,8,9,10,11,12,13,14,15,16,17,18,19,20],"grid":true,"title":null,"labelExpr":"['25-06','','27-06','','29-06','','01-07','','03-07','','05-07','','07-07','','09-07','','11-07','','13-07','','15-07'][datum.value]"}},
    "y":{"field":"v","type":"quantitative","scale":{"domain":[0,450],"nice":false},"axis":{"values":[0,50,100,150,200,250,300,350,400,450],"grid":true,"title":"CO / NOₓ","titlePadding":18}}
   }},
  {"data":{"name":"r2"},
   "mark":{"type":"line","color":"#ff0000","strokeWidth":2.2,"invalid":"break-paths-show-domains"},
   "encoding":{
    "x":{"field":"d","type":"quantitative","scale":{"domain":[0,20],"nice":false,"zero":false},"axis":{"orient":"top","values":[0,1,2,3,4,5,6,7,8,9,10,11,12,13,14,15,16,17,18,19,20],"labels":false,"grid":false,"title":null}},
    "y":{"field":"v","type":"quantitative","scale":{"domain":[0,45],"nice":false},"axis":{"orient":"right","values":[0,5,10,15,20,25,30,35,40,45],"grid":false,"title":"NO₂ / NO","titleColor":"#ff0000","titleAngle":270,"titleBaseline":"top"}}
   }},
  {"data":{"name":"events"},
   "mark":{"type":"rule","color":"#008000","strokeWidth":4.5,"strokeDash":[13,15]},
   "encoding":{
    "x":{"field":"d","type":"quantitative","axis":null},
    "y":{"datum":0,"type":"quantitative","scale":{"domain":[0,450],"nice":false},"axis":null},
    "y2":{"datum":450}
   }}
 ]
}
]
}
